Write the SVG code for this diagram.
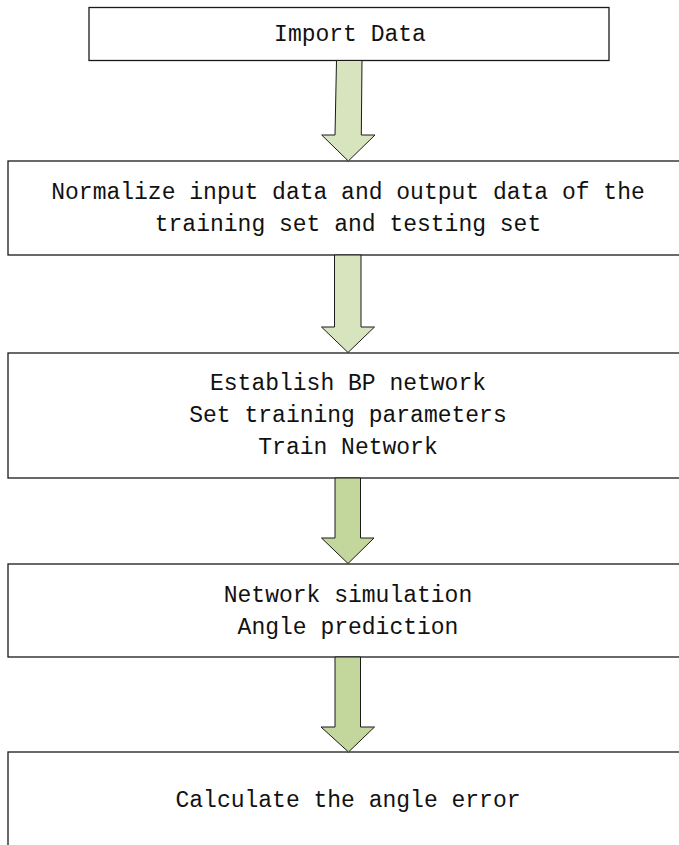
<svg xmlns="http://www.w3.org/2000/svg" width="679" height="845" viewBox="0 0 679 845">
  <style>
    .box { fill: #ffffff; stroke: #1a1a1a; stroke-width: 1.3; }
    .label { font-family: "Liberation Mono", "DejaVu Sans Mono", monospace; font-size: 23px; fill: #111111; text-anchor: middle; }
    .arrow { stroke: #1a1a1a; stroke-width: 1; stroke-linejoin: miter; }
    .light { fill: #d7e4bd; }
    .dark { fill: #c3d69b; }
  </style>
  <rect width="679" height="845" fill="#ffffff"/>

  <g id="import-data">
    <rect class="box" x="89" y="7.5" width="520" height="53"/>
    <text class="label" x="350" y="41">Import Data</text>
  </g>

  <g id="normalize">
    <rect class="box" x="8" y="161" width="690" height="94"/>
    <text class="label" x="348" y="199">Normalize input data and output data of the</text>
    <text class="label" x="348" y="231">training set and testing set</text>
  </g>

  <g id="train-network">
    <rect class="box" x="8" y="353" width="690" height="125"/>
    <text class="label" x="348" y="390">Establish BP network</text>
    <text class="label" x="348" y="422">Set training parameters</text>
    <text class="label" x="348" y="454">Train Network</text>
  </g>

  <g id="simulation">
    <rect class="box" x="8" y="564" width="690" height="93"/>
    <text class="label" x="348" y="602">Network simulation</text>
    <text class="label" x="348" y="634">Angle prediction</text>
  </g>

  <g id="angle-error">
    <rect class="box" x="8" y="752" width="690" height="120"/>
    <text class="label" x="348" y="807">Calculate the angle error</text>
  </g>

  <g id="connectors">
    <polygon class="arrow light" points="336.5,60.5 362,60.5 361.3,135 375,135 348.3,161 321.7,135 335,135"/>
    <polygon class="arrow light" points="334.5,255 361,255 361,327 374.5,327 348,352.5 321.5,327 334.5,327"/>
    <polygon class="arrow dark" points="335,478 360.5,478 360.5,538 374,538 348,563.5 321.5,538 335,538"/>
    <polygon class="arrow dark" points="335,657 360.5,657 360.5,727 374.5,727 348.5,752 321,727 335,727"/>
  </g>
</svg>
